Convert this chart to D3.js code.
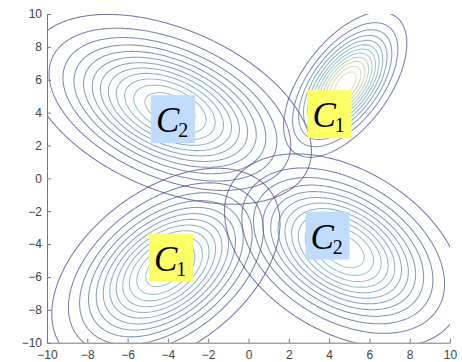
<!DOCTYPE html>
<html>
<head>
<meta charset="utf-8">
<script src="https://cdn.jsdelivr.net/npm/d3@7"></script>
<style>
  html, body { margin: 0; padding: 0; background: #fff; }
  svg { display: block; }
  .axis text { font-family: "Liberation Sans", Arial, sans-serif; font-size: 12px; fill: #444; }
  .axis path, .axis line { stroke: #777; }
</style>
</head>
<body>
<svg id="chart" width="462" height="362"></svg>
<script>
// Four bivariate Gaussian components (two per class), each drawn as its own contour set
const componentClass = [2, 1, 1, 2];
const meanX  = [-3.9, 4.8, -4.1, 4.7];
const meanY  = [ 4.2, 5.7, -5.5, -4.4];
const sigmaX = [ 3.1, 1.35, 2.5, 2.6];
const sigmaY = [ 2.55, 1.95, 2.7, 2.6];
const rho    = [-0.44, 0.57, 0.45, -0.4];

// Class labels placed near each component
const labelX = [-3.75, 4.02, -3.85, 3.92];
const labelY = [ 3.6, 3.91, -4.82, -3.48];

const xTicks = d3.range(-10, 11, 2);
const yTicks = d3.range(-10, 11, 2);
const levelCount = 12;

// Muted parula-like colour ramp
const ramp = ["#3e3a74", "#4c6396", "#5887ad", "#63a3b4", "#78b6b4", "#a7c5a2", "#d6cc94", "#eae09e"];

const svg = d3.select("#chart");
const margin = { left: 47, right: 12, top: 14, bottom: 19.3 };
const W = 462, H = 362;

const x = d3.scaleLinear().domain([-10, 10]).range([margin.left, W - margin.right]);
const y = d3.scaleLinear().domain([-10, 10]).range([H - margin.bottom, margin.top]);

// Density grid (wider than the axes, clipped afterwards)
const gMin = -14, gMax = 14, step = 0.08;
const n = Math.round((gMax - gMin) / step) + 1;

function gaussianGrid(i) {
  const sx = sigmaX[i], sy = sigmaY[i], r = rho[i];
  const norm = 1 / (2 * Math.PI * sx * sy * Math.sqrt(1 - r * r));
  const values = new Float64Array(n * n);
  for (let j = 0; j < n; j++) {
    const dy = (gMin + j * step - meanY[i]) / sy;
    for (let k = 0; k < n; k++) {
      const dx = (gMin + k * step - meanX[i]) / sx;
      const q = (dx * dx - 2 * r * dx * dy + dy * dy) / (1 - r * r);
      values[j * n + k] = norm * Math.exp(-q / 2);
    }
  }
  return { values, peak: norm };
}

const grids = meanX.map((_, i) => gaussianGrid(i));
const maxPeak = d3.max(grids, g => g.peak);
const color = d3.scaleSequential(d3.interpolateRgbBasis(ramp)).domain([0, 1]);

const projection = d3.geoTransform({
  point(gx, gy) {
    this.stream.point(x(gMin + (gx - 0.5) * step), y(gMin + (gy - 0.5) * step));
  }
});
const path = d3.geoPath(projection);

svg.append("defs").append("clipPath").attr("id", "plot-clip")
  .append("rect")
  .attr("x", x(-10)).attr("y", y(10))
  .attr("width", x(10) - x(-10)).attr("height", y(-10) - y(10));

const plot = svg.append("g").attr("clip-path", "url(#plot-clip)");

grids.forEach((g, i) => {
  const thresholds = d3.range(1, levelCount + 1).map(k => k * g.peak / (levelCount + 1));
  const contours = d3.contours().size([n, n]).thresholds(thresholds)(g.values);
  // colour level relative to the component peak, shifted by how tall that peak is
  const colourScale = 1 / Math.sqrt(g.peak * maxPeak);
  plot.append("g")
    .selectAll("path")
    .data(contours)
    .join("path")
    .attr("d", path)
    .attr("fill", "none")
    .attr("stroke", d => color(d.value * colourScale))
    .attr("stroke-opacity", 0.72)
    .attr("stroke-width", 1.05);
});

// Axes with inward ticks
svg.append("g")
  .attr("class", "axis")
  .attr("transform", `translate(0,${y(-10)})`)
  .call(d3.axisBottom(x).tickValues(xTicks).tickSizeInner(-4).tickSizeOuter(0).tickPadding(8));

svg.append("g")
  .attr("class", "axis")
  .attr("transform", `translate(${x(-10)},0)`)
  .call(d3.axisLeft(y).tickValues(yTicks).tickSizeInner(-4).tickSizeOuter(0).tickPadding(5));

// Class label boxes
const boxW = 44, boxH = 48;
const labels = svg.append("g");
componentClass.forEach((c, i) => {
  const cx = x(labelX[i]), cy = y(labelY[i]);
  const g = labels.append("g").attr("transform", `translate(${cx - boxW / 2},${cy - boxH / 2})`);
  g.append("rect")
    .attr("width", boxW).attr("height", boxH)
    .attr("fill", c === 1 ? "#ffff66" : "#bfdcff");
  const t = g.append("text")
    .attr("x", 5).attr("y", 37)
    .attr("font-family", "'Liberation Serif', 'Times New Roman', serif")
    .attr("fill", "#000");
  t.append("tspan").attr("font-style", "italic").attr("font-size", 35).text("C");
  t.append("tspan").attr("font-size", 20).attr("dy", 5).attr("dx", -1).text(c);
});
</script>
</body>
</html>
